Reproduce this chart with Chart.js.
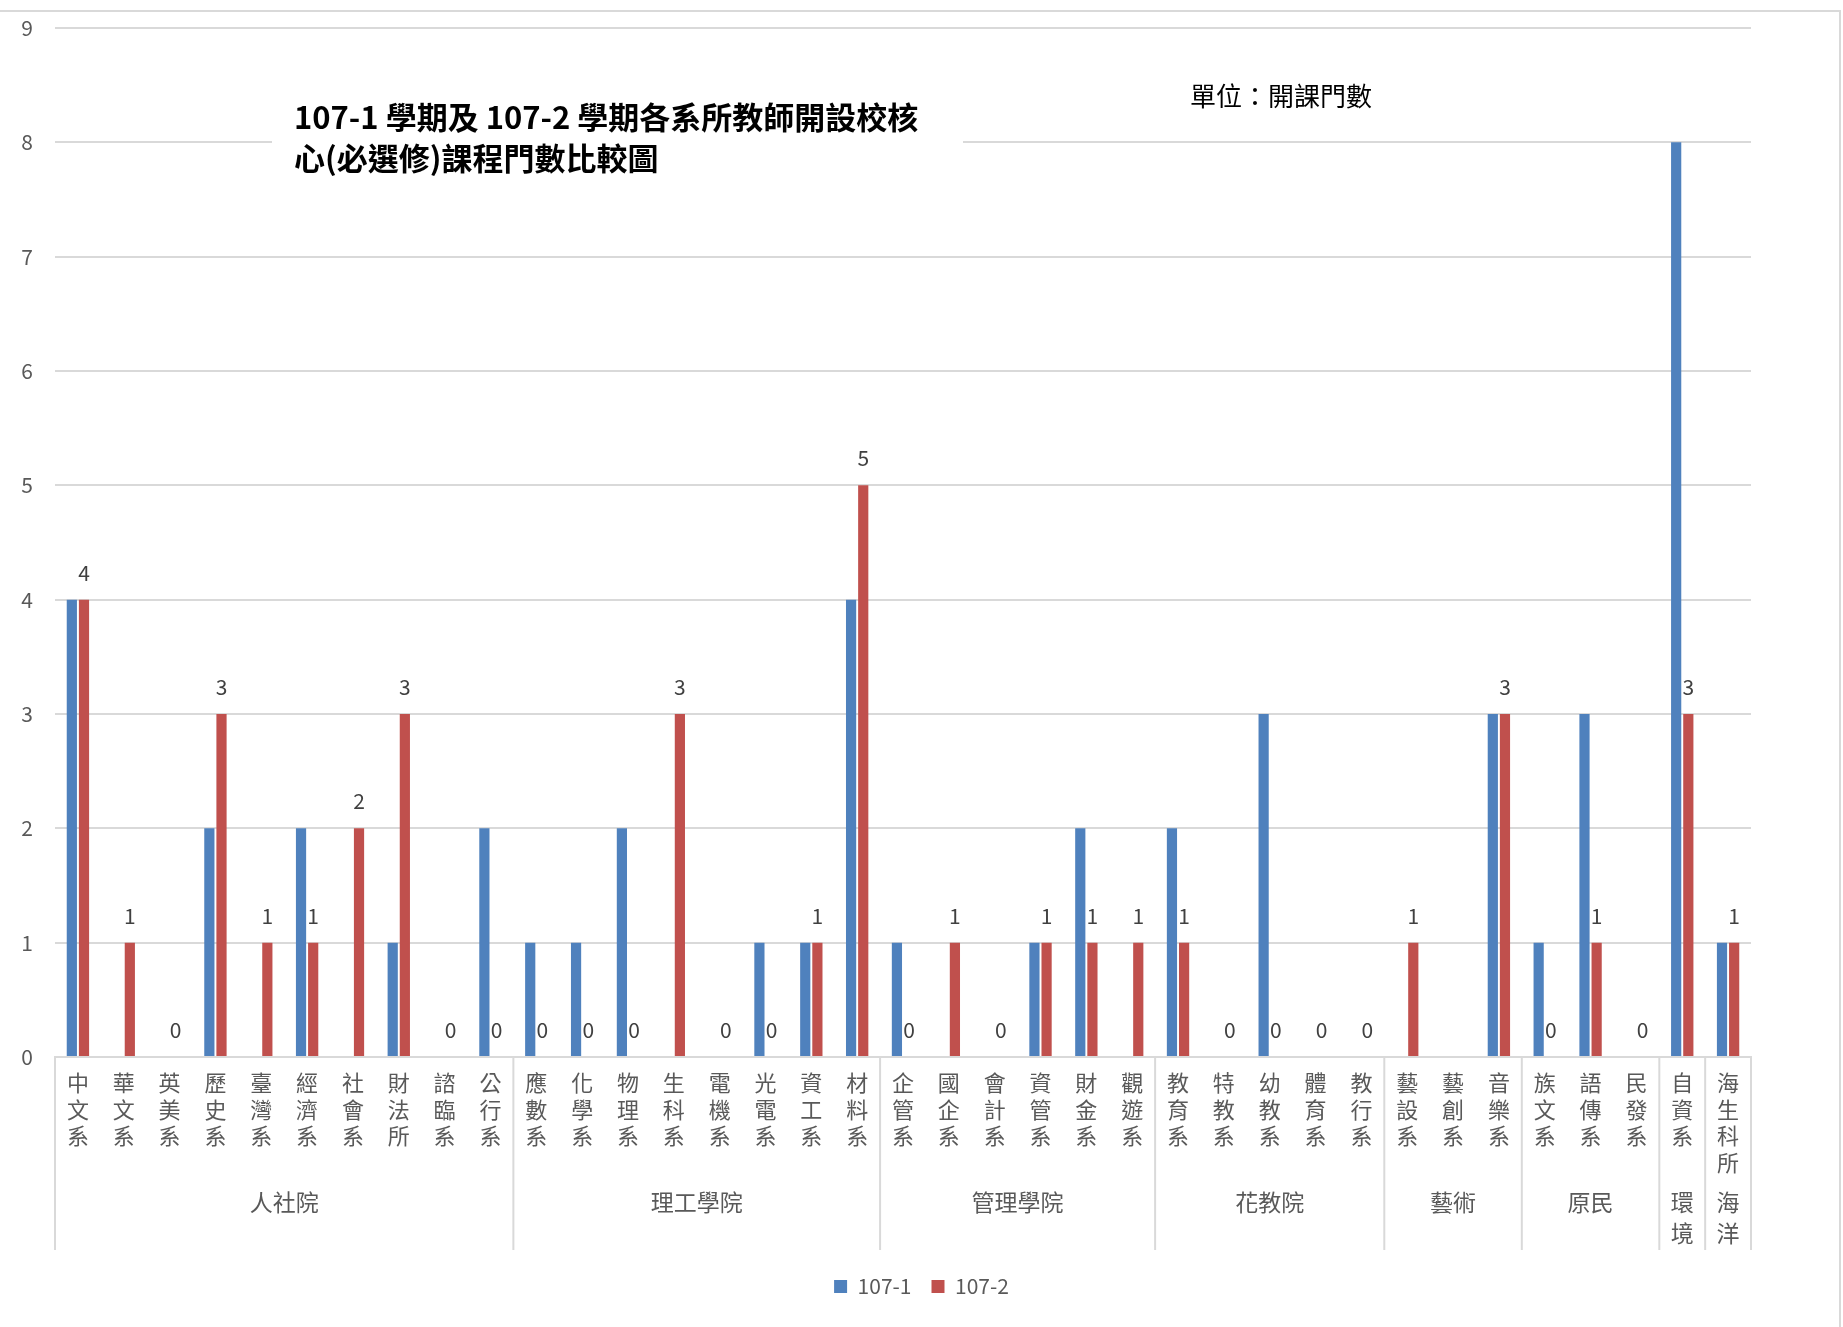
<!DOCTYPE html>
<html>
<head>
<meta charset="utf-8">
<script src="https://cdn.jsdelivr.net/npm/chart.js@4.4.1/dist/chart.umd.min.js"></script>
<style>
  html, body { margin: 0; padding: 0; background: #fff; }
  #wrap { width: 1843px; height: 1327px; position: relative; }
</style>
</head>
<body>
<div id="wrap"><canvas id="chart" width="1843" height="1327"></canvas></div>
<script>
// 系所 (x 軸)
const departments = [
  '中文系', '華文系', '英美系', '歷史系', '臺灣系', '經濟系', '社會系', '財法所', '諮臨系', '公行系',
  '應數系', '化學系', '物理系', '生科系', '電機系', '光電系', '資工系', '材料系',
  '企管系', '國企系', '會計系', '資管系', '財金系', '觀遊系',
  '教育系', '特教系', '幼教系', '體育系', '教行系',
  '藝設系', '藝創系', '音樂系',
  '族文系', '語傳系', '民發系',
  '自資系',
  '海生科所'
];
// 學院分組
const groupNames = ['人社院', '理工學院', '管理學院', '花教院', '藝術', '原民', '環境', '海洋'];
const groupSizes = [10, 8, 6, 5, 3, 3, 1, 1];

// 開課門數
const sem1071 = [4, null, null, 2, null, 2, null, 1, null, 2,
  1, 1, 2, null, null, 1, 1, 4,
  1, null, null, 1, 2, null,
  2, null, 3, null, null,
  null, null, 3,
  1, 3, null,
  8,
  1];
const sem1072 = [4, 1, 0, 3, 1, 1, 2, 3, 0, 0,
  0, 0, 0, 3, 0, 0, 1, 5,
  0, 1, 0, 1, 1, 1,
  1, 0, 0, 0, 0,
  1, null, 3,
  0, 1, 0,
  3,
  1];
const yTicks = [0, 1, 2, 3, 4, 5, 6, 7, 8, 9];

const FONT = '"Noto Sans CJK TC", "Noto Sans", sans-serif';
const GRID = '#d9d9d9';

// 紅色系列的數值標籤
const valueLabels = {
  id: 'valueLabels',
  afterDatasetsDraw(chart) {
    const ctx = chart.ctx;
    const meta = chart.getDatasetMeta(1);
    ctx.save();
    ctx.font = '21px ' + FONT;
    ctx.fillStyle = '#404040';
    ctx.textAlign = 'center';
    ctx.textBaseline = 'middle';
    meta.data.forEach((bar, i) => {
      const v = sem1072[i];
      if (v === null) return;
      ctx.fillText(String(v), bar.x, bar.y - 27);
    });
    ctx.restore();
  }
};

// 學院分組線、標題、外框
const decorations = {
  id: 'decorations',
  afterDraw(chart) {
    const ctx = chart.ctx;
    const area = chart.chartArea;
    const x = chart.scales.x;
    const half = (x.getPixelForValue(1) - x.getPixelForValue(0)) / 2;
    const lineBottom = 1250;
    ctx.save();

    // 分組
    ctx.strokeStyle = GRID;
    ctx.lineWidth = 2;
    ctx.fillStyle = '#595959';
    ctx.font = '23px ' + FONT;
    ctx.textAlign = 'center';
    ctx.textBaseline = 'middle';
    let idx = 0;
    groupNames.forEach((name, g) => {
      const left = x.getPixelForValue(idx) - half;
      const right = x.getPixelForValue(idx + groupSizes[g] - 1) + half;
      ctx.beginPath();
      ctx.moveTo(left, area.bottom);
      ctx.lineTo(left, lineBottom);
      if (g === groupNames.length - 1) {
        ctx.moveTo(right, area.bottom);
        ctx.lineTo(right, lineBottom);
      }
      ctx.stroke();
      const cx = (left + right) / 2;
      if (ctx.measureText(name).width > right - left - 6) {
        name.split('').forEach((ch, k) => ctx.fillText(ch, cx, 1202 + k * 31));
      } else {
        ctx.fillText(name, cx, 1202);
      }
      idx += groupSizes[g];
    });

    // 外框 (上、右)
    ctx.beginPath();
    ctx.moveTo(0, 11);
    ctx.lineTo(1840, 11);
    ctx.lineTo(1840, 1327);
    ctx.stroke();

    // 標題
    ctx.fillStyle = '#fff';
    ctx.fillRect(272, 80, 691, 100);
    ctx.fillStyle = '#000';
    ctx.textAlign = 'left';
    ctx.font = 'bold 31px ' + FONT;
    ctx.fillText('107-1 學期及 107-2 學期各系所教師開設校核', 294, 117);
    ctx.fillText('心(必選修)課程門數比較圖', 294, 158);

    ctx.font = '26px ' + FONT;
    ctx.fillText('單位：開課門數', 1190, 96);
    ctx.restore();
  }
};

new Chart(document.getElementById('chart'), {
  type: 'bar',
  data: {
    labels: departments,
    datasets: [
      {
        label: '107-1',
        data: sem1071,
        backgroundColor: '#4F81BD',
        categoryPercentage: 0.53,
        barPercentage: 0.84
      },
      {
        label: '107-2',
        data: sem1072,
        backgroundColor: '#C0504D',
        categoryPercentage: 0.53,
        barPercentage: 0.84
      }
    ]
  },
  options: {
    responsive: false,
    animation: false,
    devicePixelRatio: 1,
    layout: { padding: { top: 28, right: 0, left: 0, bottom: 20 } },
    plugins: {
      legend: {
        position: 'bottom',
        labels: {
          boxWidth: 13,
          boxHeight: 13,
          padding: 20,
          color: '#595959',
          font: { family: FONT, size: 21 }
        }
      },
      tooltip: { enabled: false }
    },
    scales: {
      x: {
        grid: { display: false, drawTicks: false },
        border: { display: true, color: GRID, width: 2 },
        ticks: {
          autoSkip: false,
          maxRotation: 0,
          minRotation: 0,
          padding: 12,
          color: '#595959',
          font: { family: FONT, size: 22, lineHeight: 1.22 },
          callback: function (v) { return this.getLabelForValue(v).split(''); }
        },
        afterFit(scale) { scale.height = 199; }
      },
      y: {
        min: yTicks[0],
        max: yTicks[yTicks.length - 1],
        grid: { color: GRID, lineWidth: 2, drawTicks: true, tickLength: 22, tickColor: 'rgba(0,0,0,0)' },
        border: { display: false },
        ticks: {
          stepSize: 1,
          padding: 0,
          color: '#595959',
          font: { family: FONT, size: 21 }
        },
        afterFit(scale) { scale.width = 55; }
      },
      // 右側留白 (不顯示)
      spacer: {
        type: 'linear',
        position: 'right',
        grid: { display: false, drawTicks: false },
        border: { display: false },
        ticks: { display: false },
        afterFit(scale) { scale.width = 92; }
      }
    }
  },
  plugins: [valueLabels, decorations]
});
</script>
</body>
</html>
